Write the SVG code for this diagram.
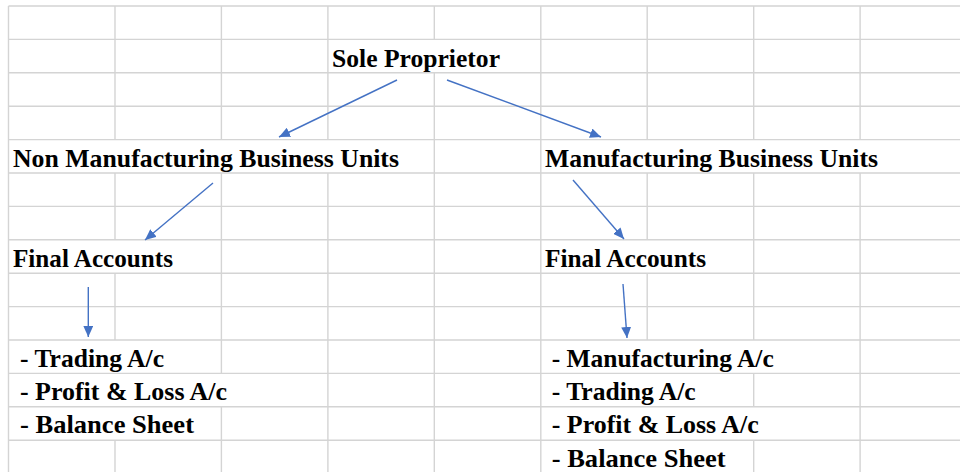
<svg xmlns="http://www.w3.org/2000/svg" width="960" height="472" viewBox="0 0 960 472">
<style>
.grid{stroke:#d4d4d4;stroke-width:1.4;fill:none}
.lbl{font-family:'Liberation Serif','Times New Roman',serif;font-weight:700;font-size:25px;fill:#000}
.conn{stroke:#4472C4;stroke-width:1.4;fill:none;marker-end:url(#ah)}
</style>
<defs>
<marker id="ah" viewBox="0 0 10 9" refX="10" refY="4.5" markerWidth="11" markerHeight="10" markerUnits="userSpaceOnUse" orient="auto">
<path d="M0,0 L10,4.5 L0,9 z" fill="#4472C4"/>
</marker>
</defs>
<rect x="0" y="0" width="960" height="472" fill="#fff"/>
<g id="grid" class="grid">
<path d="M8.5,6 H960 M8.5,39.4 H960 M8.5,72.8 H960 M8.5,106.2 H960 M8.5,139.6 H960 M8.5,173 H960 M8.5,206.4 H960 M8.5,239.8 H960 M8.5,273.2 H960 M8.5,306.6 H960 M8.5,340 H960 M8.5,373.4 H960 M8.5,406.8 H960 M8.5,440.2 H960"/>
<path d="M8.5,6 V472
M115,6 V139.6 M115,173 V239.8 M115,273.2 V340 M115,440.2 V472
M221.4,6 V139.6 M221.4,173 V373.4 M221.4,406.8 V472
M327.9,6 V139.6 M327.9,173 V472
M434.3,6 V39.4 M434.3,72.8 V472
M540.8,6 V472
M647.2,6 V139.6 M647.2,173 V239.8 M647.2,273.2 V340
M753.7,6 V139.6 M753.7,173 V340 M753.7,373.4 V406.8 M753.7,440.2 V472
M860.1,6 V139.6 M860.1,173 V472"/>
</g>
<g id="connectors">
<line class="conn" x1="397" y1="80" x2="279" y2="137"/>
<line class="conn" x1="447" y1="80" x2="601" y2="137"/>
<line class="conn" x1="213" y1="183" x2="145" y2="240"/>
<line class="conn" x1="573" y1="180" x2="624" y2="239"/>
<line class="conn" x1="88.3" y1="287" x2="88.3" y2="337"/>
<line class="conn" x1="623" y1="284" x2="627" y2="338"/>
</g>
<g id="sole-proprietor"><text class="lbl" x="332" y="66.5" textLength="168" lengthAdjust="spacingAndGlyphs">Sole Proprietor</text></g>
<g id="non-manufacturing"><text class="lbl" x="13" y="166.5" textLength="386" lengthAdjust="spacingAndGlyphs">Non Manufacturing Business Units</text></g>
<g id="manufacturing"><text class="lbl" x="545" y="166.5" textLength="333" lengthAdjust="spacingAndGlyphs">Manufacturing Business Units</text></g>
<g id="final-accounts-left"><text class="lbl" x="13" y="266.5" textLength="160" lengthAdjust="spacingAndGlyphs">Final Accounts</text></g>
<g id="final-accounts-right"><text class="lbl" x="545" y="266.5" textLength="161" lengthAdjust="spacingAndGlyphs">Final Accounts</text></g>
<g id="list-left">
<text class="lbl" x="20" y="366.5" textLength="144" lengthAdjust="spacingAndGlyphs">- Trading A/c</text>
<text class="lbl" x="20" y="400" textLength="207" lengthAdjust="spacingAndGlyphs">- Profit &amp; Loss A/c</text>
<text class="lbl" x="20" y="433.3" textLength="174" lengthAdjust="spacingAndGlyphs">- Balance Sheet</text>
</g>
<g id="list-right">
<text class="lbl" x="551.7" y="366.5" textLength="222" lengthAdjust="spacingAndGlyphs">- Manufacturing A/c</text>
<text class="lbl" x="551.7" y="400" textLength="144" lengthAdjust="spacingAndGlyphs">- Trading A/c</text>
<text class="lbl" x="551.7" y="433.3" textLength="207" lengthAdjust="spacingAndGlyphs">- Profit &amp; Loss A/c</text>
<text class="lbl" x="551.7" y="466.6" textLength="174" lengthAdjust="spacingAndGlyphs">- Balance Sheet</text>
</g>
</svg>
